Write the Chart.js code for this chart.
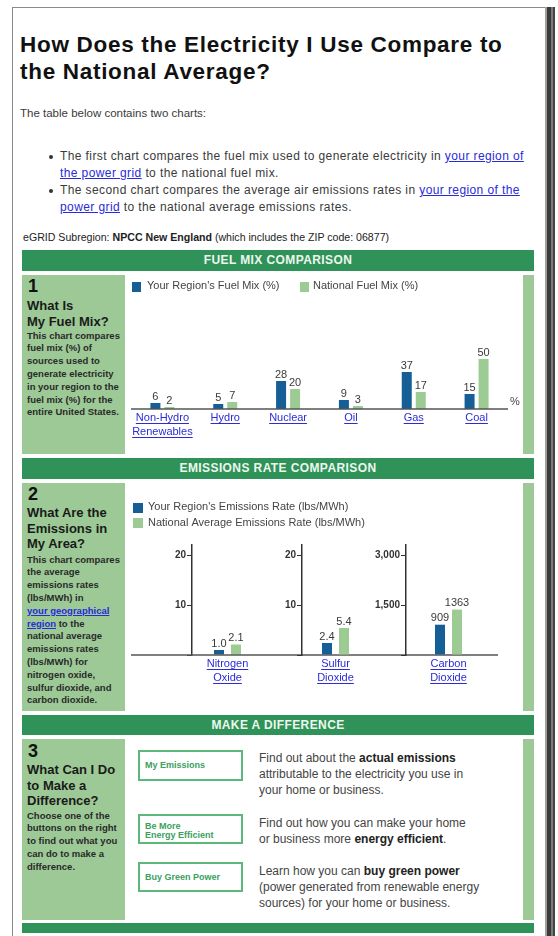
<!DOCTYPE html>
<html><head><meta charset="utf-8">
<script src="https://cdn.jsdelivr.net/npm/chart.js@4.4.0/dist/chart.umd.min.js"></script>
<style>
html,body{margin:0;padding:0;background:#fff;}
body{width:558px;height:936px;position:relative;overflow:hidden;font-family:Arial,"Liberation Sans",Helvetica,sans-serif;color:#333;}
.abs{position:absolute;}
#frame{left:12px;top:7px;width:540px;height:940px;border-left:1px solid #8a8a8a;border-top:1px solid #8a8a8a;}
#sbar{left:545px;top:7px;width:10px;height:929px;background:linear-gradient(to right,#a0a0a0 0,#a0a0a0 2px,#3a3a3a 2px,#3a3a3a 6px,#7a7a7a 6px,#7a7a7a 8px,#444 8px);}
h1{position:absolute;left:20px;top:30.7px;margin:0;font-size:22.5px;line-height:27px;letter-spacing:0.7px;font-weight:bold;color:#111;white-space:nowrap;}
a{color:#2a2ad8;text-decoration:underline;}
.p{font-size:11.5px;line-height:13px;color:#3a3a3a;white-space:nowrap;}
.bl{font-size:12px;line-height:16.8px;letter-spacing:0.4px;color:#3a3a3a;white-space:nowrap;left:60px;}
.dot{position:absolute;left:-11px;width:4px;height:4px;border-radius:2px;background:#333;}
.hdr{left:22px;width:512px;height:21px;background:#2f9359;color:#eef7ee;font-weight:bold;font-size:12px;line-height:21px;text-align:center;letter-spacing:0.4px;}
.lc{left:22px;width:103px;background:#9cc995;}
.rs{left:523px;width:11px;background:#9cc995;}
.num{left:28px;font-size:18px;line-height:18px;font-weight:bold;color:#111;}
.hd{left:27px;font-size:13px;font-weight:bold;color:#1a1a1a;line-height:15.5px;white-space:nowrap;}
.bd{left:27px;font-size:9.5px;font-weight:bold;color:#2a2a2a;line-height:12.8px;white-space:nowrap;}
.btn{left:138px;width:101px;border:2px solid #5cb87a;background:#fff;color:#3aa060;font-weight:bold;font-size:9px;line-height:9px;}
.btn span{position:absolute;left:5px;}
.ds{left:259px;font-size:12px;line-height:16px;color:#444;white-space:nowrap;}
.ds b{color:#222;}
canvas{position:absolute;}
</style>
</head>
<body>
<div id="frame" class="abs"></div>
<div id="sbar" class="abs"></div>
<h1>How Does the Electricity I Use Compare to<br>the National Average?</h1>
<div class="abs p" style="left:20px;top:107px;">The table below contains two charts:</div>
<div class="abs bl" style="top:148px;"><span class="dot" style="top:7px"></span>The first chart compares the fuel mix used to generate electricity in <a>your region of</a><br><a>the power grid</a> to the national fuel mix.</div>
<div class="abs bl" style="top:182px;"><span class="dot" style="top:7px"></span>The second chart compares the average air emissions rates in <a>your region of the</a><br><a>power grid</a> to the national average emissions rates.</div>
<div class="abs p" style="left:23px;top:231px;font-size:10.6px;color:#222;">eGRID Subregion: <b>NPCC New England</b> (which includes the ZIP code: 06877)</div>

<div class="abs hdr" style="top:250px;">FUEL MIX COMPARISON</div>
<div class="abs lc" style="top:275px;height:179px;"></div>
<div class="abs rs" style="top:275px;height:179px;"></div>
<div class="abs num" style="top:277px;">1</div>
<div class="abs hd" style="top:298px;">What Is<br>My Fuel Mix?</div>
<div class="abs bd" style="top:329.6px;">This chart compares<br>fuel mix (%) of<br>sources used to<br>generate electricity<br>in your region to the<br>fuel mix (%) for the<br>entire United States.</div>
<canvas id="c1" width="393" height="179" style="left:127px;top:275px;"></canvas>

<div class="abs hdr" style="top:458px;">EMISSIONS RATE COMPARISON</div>
<div class="abs lc" style="top:483px;height:228px;"></div>
<div class="abs rs" style="top:483px;height:228px;"></div>
<div class="abs num" style="top:485px;">2</div>
<div class="abs hd" style="top:505px;">What Are the<br>Emissions in<br>My Area?</div>
<div class="abs bd" style="top:553.6px;">This chart compares<br>the average<br>emissions rates<br>(lbs/MWh) in<br><a>your geographical</a><br><a>region</a> to the<br>national average<br>emissions rates<br>(lbs/MWh) for<br>nitrogen oxide,<br>sulfur dioxide, and<br>carbon dioxide.</div>
<canvas id="c2a" width="393" height="228" style="left:127px;top:483px;"></canvas>
<canvas id="c2b" width="393" height="228" style="left:127px;top:483px;"></canvas>
<canvas id="c2c" width="393" height="228" style="left:127px;top:483px;"></canvas>

<div class="abs hdr" style="top:715px;height:20px;line-height:20px;">MAKE A DIFFERENCE</div>
<div class="abs lc" style="top:739px;height:181px;"></div>
<div class="abs rs" style="top:739px;height:181px;"></div>
<div class="abs num" style="top:742px;">3</div>
<div class="abs hd" style="top:762px;">What Can I Do<br>to Make a<br>Difference?</div>
<div class="abs bd" style="top:809.6px;">Choose one of the<br>buttons on the right<br>to find out what you<br>can do to make a<br>difference.</div>

<div class="abs btn" style="top:750px;height:27px;"><span style="top:9px;">My Emissions</span></div>
<div class="abs btn" style="top:814px;height:26px;"><span style="top:6px;line-height:9px;">Be More<br>Energy Efficient</span></div>
<div class="abs btn" style="top:862px;height:26px;"><span style="top:9px;">Buy Green Power</span></div>
<div class="abs ds" style="top:750px;">Find out about the <b>actual emissions</b><br>attributable to the electricity you use in<br>your home or business.</div>
<div class="abs ds" style="top:815px;">Find out how you can make your home<br>or business more <b>energy efficient</b>.</div>
<div class="abs ds" style="top:863px;">Learn how you can <b>buy green power</b><br>(power generated from renewable energy<br>sources) for your home or business.</div>
<div class="abs" style="left:22px;top:923px;width:512px;height:10px;background:#2f9359;"></div>

<script>
// ---- data ----
const fuels = [['Non-Hydro','Renewables'],['Hydro'],['Nuclear'],['Oil'],['Gas'],['Coal']];
const regionMix = [6, 5, 28, 9, 37, 15];
const nationalMix = [2, 7, 20, 3, 17, 50];
const pollutants = [['Nitrogen','Oxide'],['Sulfur','Dioxide'],['Carbon','Dioxide']];
const regionRates = [1.0, 2.4, 909];
const nationalRates = [2.1, 5.4, 1363];
const rateAxisMax = [22, 22, 3300];
const rateTicks = [[10, 20], [10, 20], [1500, 3000]];
const mixLegend = ["Your Region's Fuel Mix (%)", 'National Fuel Mix (%)'];
const rateLegend = ["Your Region's Emissions Rate (lbs/MWh)", 'National Average Emissions Rate (lbs/MWh)'];

const BLUE = '#155e96', GREEN = '#9ccc94';
const FONT = 'Arial, "Liberation Sans", sans-serif';

function makePlugin(cfg){
  return {
    id: 'pageDraw',
    afterDatasetsDraw(chart){
      const ctx = chart.ctx, ca = chart.chartArea;
      ctx.save();
      if (cfg.base){
        ctx.strokeStyle = '#555'; ctx.lineWidth = 1.5;
        ctx.beginPath(); ctx.moveTo(cfg.base[0], ca.bottom); ctx.lineTo(cfg.base[1], ca.bottom); ctx.stroke();
      }
      ctx.font = '11px ' + FONT; ctx.fillStyle = '#3a3a3a';
      ctx.textAlign = 'center'; ctx.textBaseline = 'bottom';
      chart.data.datasets.forEach((ds, di) => {
        chart.getDatasetMeta(di).data.forEach((el, i) => {
          ctx.fillText(cfg.fmt(ds.data[i]), el.x, el.y - 1);
        });
      });
      const xs = chart.scales.x;
      ctx.font = '11px ' + FONT; ctx.fillStyle = '#2b2bd9'; ctx.textBaseline = 'middle';
      cfg.cats.forEach((lines, i) => {
        const x = xs.getPixelForValue(i);
        lines.forEach((t, j) => {
          const y = ca.bottom + 9 + 14 * j;
          ctx.fillText(t, x, y);
          const w = ctx.measureText(t).width;
          ctx.fillRect(x - w / 2, y + 5, w, 1);
        });
      });
      if (cfg.legend){
        ctx.textAlign = 'left'; ctx.textBaseline = 'middle'; ctx.font = '11px ' + FONT;
        cfg.legend.forEach((p, i) => {
          const ds = chart.data.datasets[i];
          ctx.fillStyle = ds.backgroundColor; ctx.fillRect(p[0], p[1], p[2], p[3]);
          ctx.fillStyle = '#444'; ctx.fillText(ds.label, p[4], p[5]);
        });
      }
      if (cfg.unit){
        ctx.fillStyle = '#444'; ctx.textAlign = 'left'; ctx.textBaseline = 'middle';
        ctx.fillText(cfg.unit, ca.right + 2, ca.bottom - 7);
      }
      ctx.restore();
    }
  };
}

// ---- chart 1: fuel mix ----
new Chart(document.getElementById('c1'), {
  type: 'bar',
  data: {
    labels: fuels.map(f => f.join(' ')),
    datasets: [
      {label: mixLegend[0], data: regionMix, backgroundColor: BLUE, categoryPercentage: 0.446, barPercentage: 0.714},
      {label: mixLegend[1], data: nationalMix, backgroundColor: GREEN, categoryPercentage: 0.446, barPercentage: 0.714}
    ]
  },
  options: {
    responsive: false, animation: false, devicePixelRatio: 1,
    layout: {padding: {left: 4, right: 12, top: 64, bottom: 45}},
    scales: {x: {display: false}, y: {display: false, min: 0, max: 70}},
    plugins: {legend: {display: false}, tooltip: {enabled: false}}
  },
  plugins: [makePlugin({
    base: [4, 381], fmt: v => String(v), cats: fuels, unit: '%',
    legend: [[5, 7, 9, 10, 20, 11], [173, 7, 9, 10, 186, 11]]
  })]
});

// ---- chart 2: emissions rates (three small charts sharing a baseline) ----
const padL = [25, 135, 239], padR = [257, 151, 29];
const catPct = [0.479, 0.507, 0.4];
['c2a', 'c2b', 'c2c'].forEach((id, k) => {
  new Chart(document.getElementById(id), {
    type: 'bar',
    data: {
      labels: [pollutants[k].join(' ')],
      datasets: [
        {label: rateLegend[0], data: [regionRates[k]], backgroundColor: BLUE, categoryPercentage: catPct[k], barPercentage: 0.588},
        {label: rateLegend[1], data: [nationalRates[k]], backgroundColor: GREEN, categoryPercentage: catPct[k], barPercentage: 0.588}
      ]
    },
    options: {
      responsive: false, animation: false, devicePixelRatio: 1,
      layout: {padding: {left: padL[k], right: padR[k], top: 62, bottom: 56}},
      scales: {
        x: {display: false},
        y: {
          min: 0, max: rateAxisMax[k],
          afterFit(s){ s.width = 40; },
          afterBuildTicks(s){ s.ticks = [0].concat(rateTicks[k]).map(v => ({value: v})); },
          ticks: {padding: 1, color: '#333',
            font: {size: 10, weight: 'bold', family: FONT},
            callback: v => v === 0 ? '' : v.toLocaleString('en-US')},
          grid: {drawOnChartArea: false, drawTicks: true, tickLength: 5, color: '#333'},
          border: {display: true, color: '#333', width: 1.5}
        }
      },
      plugins: {legend: {display: false}, tooltip: {enabled: false}}
    },
    plugins: [makePlugin({
      base: k === 0 ? [4, 371] : null,
      fmt: v => v >= 100 ? String(v) : v.toFixed(1),
      cats: [pollutants[k]],
      legend: k === 0 ? [[6, 20, 10, 10, 21, 24], [6, 35, 10, 10, 21, 40]] : null
    })]
  });
});
</script>
</body></html>
